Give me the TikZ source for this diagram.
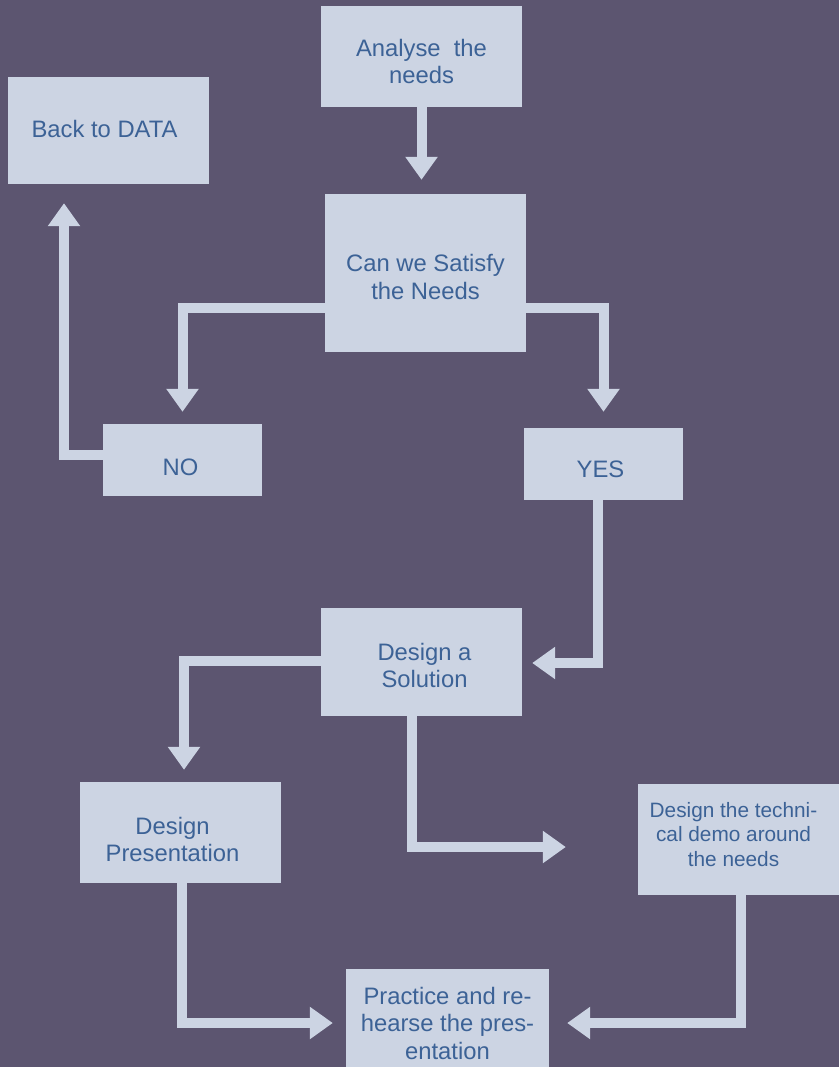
\documentclass[tikz,border=0pt]{standalone}
\usepackage{fontspec}
\setmainfont{Liberation Sans}
\usetikzlibrary{arrows.meta}
\definecolor{bgc}{HTML}{5C5570}
\definecolor{boxc}{HTML}{CCD4E3}
\definecolor{txtc}{HTML}{3C6296}
\begin{document}
\begin{tikzpicture}[x=1pt,y=-1pt,
  box/.style={fill=boxc, draw=none, inner sep=0pt},
  txt/.style={text=txtc, align=center, font=\fontsize{23.8}{27.5}\selectfont, inner sep=0pt},
  smalltxt/.style={txt, font=\fontsize{20.8}{24.5}\selectfont},
  arr/.style={draw=boxc, line width=10pt, line join=miter, line cap=butt,
    -{Triangle[width=31pt,length=23pt]}}]
  % canvas
  \fill[bgc] (0,0) rectangle (839,1067);
  \useasboundingbox (0,0) rectangle (839,1067);

  % boxes (shifts below are canvas shifts: positive yshift moves up)
  \node[box, minimum width=201pt, minimum height=101pt] (analyse) at (421.5,56.5) {};
  \node[txt] (analyseT) at ([yshift=-5]analyse.center) {Analyse\ \ the\\needs};

  \node[box, minimum width=201pt, minimum height=107pt] (back) at (108.5,130.5) {};
  \node[txt] (backT) at ([xshift=-4,yshift=2]back.center) {Back to DATA};

  \node[box, minimum width=201pt, minimum height=158pt] (can) at (425.5,273) {};
  \node[txt] (canT) at ([yshift=-4]can.center) {Can we Satisfy\\the Needs};

  \node[box, minimum width=159pt, minimum height=72pt] (no) at (182.5,460) {};
  \node[txt] (noT) at ([xshift=-2,yshift=-7]no.center) {NO};

  \node[box, minimum width=159pt, minimum height=72pt] (yes) at (603.5,464) {};
  \node[txt] (yesT) at ([xshift=-3,yshift=-5]yes.center) {YES};

  \node[box, minimum width=201pt, minimum height=108pt] (solution) at (421.5,662) {};
  \node[txt] (solutionT) at ([xshift=3,yshift=-3.5]solution.center) {Design a\\Solution};

  \node[box, minimum width=201pt, minimum height=101pt] (presentation) at (180.5,832.5) {};
  \node[txt] (presentationT) at ([xshift=-8,yshift=-7]presentation.center) {Design\\Presentation};

  \node[box, minimum width=201pt, minimum height=111pt] (demo) at (738.5,839.5) {};
  \node[smalltxt] (demoT) at ([xshift=-5,yshift=5]demo.center) {Design the techni-\\cal demo around\\the needs};

  \node[box, minimum width=203pt, minimum height=108pt] (practice) at (447.5,1023) {};
  \node[txt] (practiceT) at (practice.center) {Practice and re-\\hearse the pres-\\entation};

  % connectors
  \draw[arr, shorten >=14pt] (analyse.south) -- (analyse.south |- can.north);
  \draw[arr, shorten >=12pt] ([yshift=-35]can.west) -| (no.north);
  \draw[arr, shorten >=16pt] ([yshift=-35]can.east) -| (yes.north);
  \draw[arr, shorten >=19pt] ([yshift=5]no.west) -| ([xshift=-44.5]back.south);
  \draw[arr, shorten >=10pt] ([xshift=-5.5]yes.south) |- ([yshift=-1]solution.east);
  \draw[arr, shorten >=12pt] ([yshift=1]solution.west) -| ([xshift=3.5]presentation.north);
  \draw[arr, shorten >=72pt] ([xshift=-9.5]solution.south) |- ([yshift=-7.5]demo.west);
  \draw[arr, shorten >=13pt] ([xshift=1.5]presentation.south) |- (practice.west);
  \draw[arr, shorten >=18pt] ([xshift=2.5]demo.south) |- (practice.east);
\end{tikzpicture}
\end{document}
